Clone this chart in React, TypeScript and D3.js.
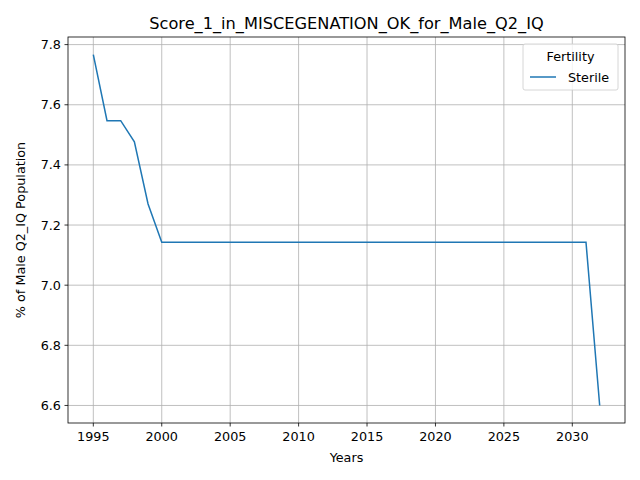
import React from 'react';
import * as d3 from 'd3';

const years = d3.range(1995, 2033);
const values = [
  7.767, 7.547, 7.547, 7.477, 7.27, 7.143,
  ...Array(31).fill(7.143),
  6.6,
];
const xTicks = [1995, 2000, 2005, 2010, 2015, 2020, 2025, 2030];
const yTicks = [6.6, 6.8, 7.0, 7.2, 7.4, 7.6, 7.8];

const App = () => {
  const W = 640, H = 480;
  const m = { left: 68, right: 625, top: 37, bottom: 423 };
  const x = d3.scaleLinear().domain([1993.15, 2033.85]).range([m.left, m.right]);
  const y = d3.scaleLinear().domain([6.5417, 7.8253]).range([m.bottom, m.top]);
  const line = d3.line<number>().x((_, i) => x(years[i])).y(d => y(d));
  const font = 'DejaVu Sans';
  const fs = 13.9;

  return (
    <svg width={W} height={H} style={{ position: 'absolute', left: 0, top: 0 }} fontFamily={font}>
      <rect width={W} height={H} fill="white" />
      {xTicks.map(t => (
        <g key={t}>
          <line x1={x(t)} x2={x(t)} y1={m.top} y2={m.bottom} stroke="#b0b0b0" strokeWidth={0.8} />
          <line x1={x(t)} x2={x(t)} y1={m.bottom} y2={m.bottom + 3.5} stroke="black" strokeWidth={0.8} />
          <text x={x(t)} y={m.bottom + 18} fontSize={fs * 0.92} textAnchor="middle">{t}</text>
        </g>
      ))}
      {yTicks.map(t => (
        <g key={t}>
          <line x1={m.left} x2={m.right} y1={y(t)} y2={y(t)} stroke="#b0b0b0" strokeWidth={0.8} />
          <line x1={m.left - 3.5} x2={m.left} y1={y(t)} y2={y(t)} stroke="black" strokeWidth={0.8} />
          <text x={m.left - 7} y={y(t) + 4.5} fontSize={fs * 0.92} textAnchor="end">{t.toFixed(1)}</text>
        </g>
      ))}
      <path d={line(values) ?? ''} fill="none" stroke="#1f77b4" strokeWidth={1.5} />
      <rect x={m.left} y={m.top} width={m.right - m.left} height={m.bottom - m.top} fill="none" stroke="black" strokeWidth={0.8} />
      <text x={(m.left + m.right) / 2} y={29} fontSize={16.2} textAnchor="middle">Score_1_in_MISCEGENATION_OK_for_Male_Q2_IQ</text>
      <text x={(m.left + m.right) / 2} y={462} fontSize={fs * 0.92} textAnchor="middle">Years</text>
      <text transform={`translate(25,${(m.top + m.bottom) / 2}) rotate(-90)`} fontSize={fs * 0.92} textAnchor="middle">% of Male Q2_IQ Population</text>
      <g>
        <rect x={523} y={44} width={95} height={46} rx={2} fill="white" fillOpacity={0.8} stroke="#cccccc" strokeWidth={0.8} />
        <text x={570.5} y={61} fontSize={fs * 0.92} textAnchor="middle">Fertility</text>
        <line x1={530} x2={556} y1={77} y2={77} stroke="#1f77b4" strokeWidth={1.5} />
        <text x={568} y={82} fontSize={fs * 0.92}>Sterile</text>
      </g>
    </svg>
  );
};

export default App;
